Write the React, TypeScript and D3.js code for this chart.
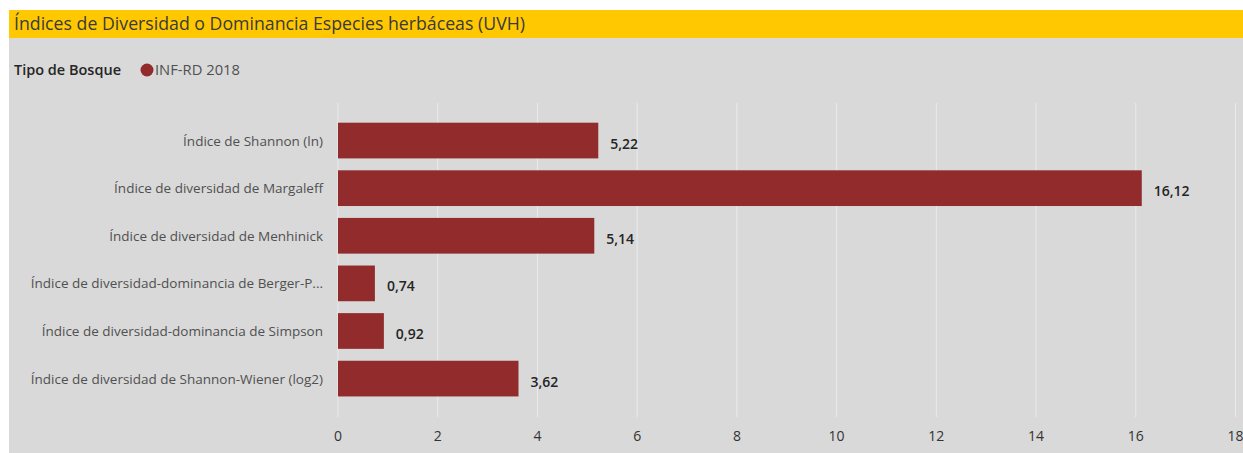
import React from "react";
import * as d3 from "d3";

const title = "Índices de Diversidad o Dominancia Especies herbáceas (UVH)";
const legendTitle = "Tipo de Bosque";
const seriesName = "INF-RD 2018";
const categories = [
  "Índice de Shannon (ln)",
  "Índice de diversidad de Margaleff",
  "Índice de diversidad de Menhinick",
  "Índice de diversidad-dominancia de Berger-P...",
  "Índice de diversidad-dominancia de Simpson",
  "Índice de diversidad de Shannon-Wiener (log2)",
];
const values = [5.22, 16.12, 5.14, 0.74, 0.92, 3.62];
const xTicks = [0, 2, 4, 6, 8, 10, 12, 14, 16, 18];

const W = 1243;
const H = 453;
const FONT = "'Open Sans', 'Noto Sans', sans-serif";
const BAR = "#922B2B";

export default function App() {
  const x = d3.scaleLinear().domain([0, 18]).range([338, 1235.5]);
  const y = d3
    .scaleBand<string>()
    .domain(categories)
    .range([116.75, 402.4])
    .paddingInner(0.25)
    .paddingOuter(0.125);
  const fmt = (v: number) => d3.format(".2f")(v).replace(".", ",");

  return (
    <svg
      width={W}
      height={H}
      style={{ position: "absolute", left: 0, top: 0, background: "#fff" }}
    >
      <rect x={9} y={10} width={W - 9} height={H - 10} fill="#D9D9D9" />
      <rect x={9} y={10} width={W - 9} height={28} fill="#FFC800" />
      <text
        x={14}
        y={30}
        fontFamily={FONT}
        fontSize={17.5}
        fill="#3a3a3a"
        textLength={511}
        lengthAdjust="spacingAndGlyphs"
      >
        {title}
      </text>
      <text
        x={14}
        y={75}
        fontFamily={FONT}
        fontSize={14}
        fontWeight={600}
        fill="#252525"
        textLength={107}
        lengthAdjust="spacingAndGlyphs"
      >
        {legendTitle}
      </text>
      <circle cx={147} cy={70} r={6.5} fill={BAR} />
      <text
        x={155}
        y={75}
        fontFamily={FONT}
        fontSize={14}
        fill="#505050"
        textLength={85}
        lengthAdjust="spacingAndGlyphs"
      >
        {seriesName}
      </text>
      {xTicks.map((t) => (
        <g key={t}>
          <line
            x1={x(t)}
            x2={x(t)}
            y1={103}
            y2={417}
            stroke="#EAEAEA"
            strokeWidth={1}
          />
          <text
            x={x(t)}
            y={441}
            textAnchor="middle"
            fontFamily={FONT}
            fontSize={14}
            fill="#333"
          >
            {t}
          </text>
        </g>
      ))}
      {categories.map((c, i) => {
        const yy = y(c)!;
        const bh = y.bandwidth();
        return (
          <g key={c}>
            <rect
              x={x(0)}
              y={yy}
              width={x(values[i]) - x(0)}
              height={bh}
              fill={BAR}
            />
            <text
              x={323}
              y={yy + bh / 2 + 5}
              textAnchor="end"
              fontFamily={FONT}
              fontSize={13.5}
              fill="#505050"
            >
              {c}
            </text>
            <text
              x={x(values[i]) + 12}
              y={yy + bh / 2 + 8}
              fontFamily={FONT}
              fontSize={14}
              fontWeight={600}
              fill="#252525"
            >
              {fmt(values[i])}
            </text>
          </g>
        );
      })}
    </svg>
  );
}
